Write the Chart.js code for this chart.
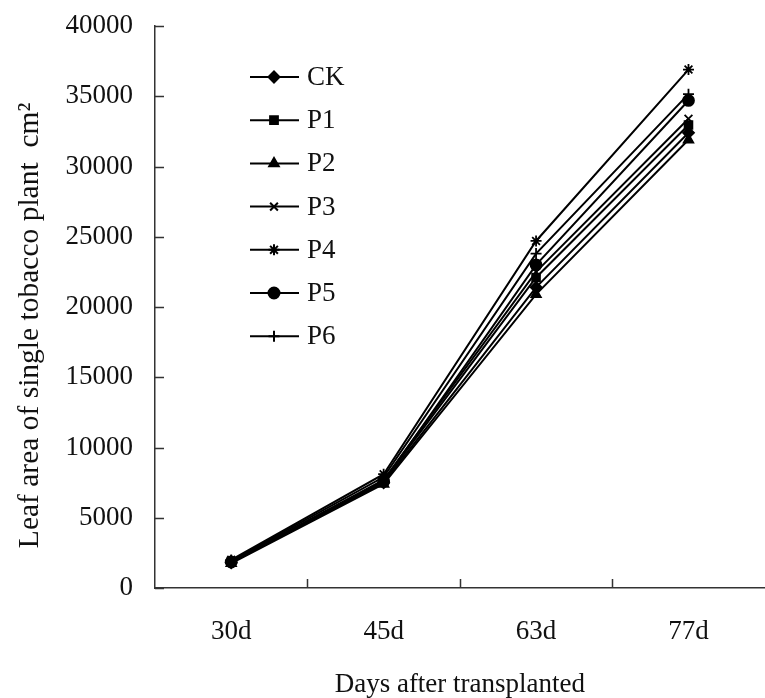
<!DOCTYPE html>
<html>
<head>
<meta charset="utf-8">
<script src="https://cdn.jsdelivr.net/npm/chart.js@4/dist/chart.umd.min.js"></script>
<style>
  html, body { margin: 0; padding: 0; background: #fff; overflow: hidden; }
  #wrap { width: 772px; height: 698px; }
</style>
</head>
<body>
<div id="wrap"><canvas id="leafChart"></canvas></div>
<script>
// categories and values
const days = ['30d', '45d', '63d', '77d'];
const seriesNames = ['CK', 'P1', 'P2', 'P3', 'P4', 'P5', 'P6'];
const ck = [1800, 7500, 21400, 32400];
const p1 = [1850, 7600, 22100, 32950];
const p2 = [1750, 7400, 20900, 31900];
const p3 = [1900, 7700, 22500, 33400];
const p4 = [2000, 8100, 24700, 36900];
const p5 = [1850, 7600, 23000, 34700];
const p6 = [1950, 7900, 23800, 35150];
const yTicks = [0, 5000, 10000, 15000, 20000, 25000, 30000, 35000, 40000];

const allValues = [ck, p1, p2, p3, p4, p5, p6];
const markers = ['rectRot', 'rect', 'triangle', 'crossRot', 'star', 'circle', 'cross'];
const FONT = '"Liberation Serif", "Times New Roman", serif';

const datasets = seriesNames.map((name, i) => ({
    label: name,
    data: allValues[i],
    borderColor: '#000',
    backgroundColor: '#000',
    borderWidth: 2,
    pointStyle: markers[i],
    pointRadius: 5.5,
    pointBorderWidth: 1.8,
    pointBorderColor: '#000',
    pointBackgroundColor: '#000',
    tension: 0
}));

// ticks pointing inwards + legend inside the plot
const decorPlugin = {
    id: 'decor',
    afterDraw(chart) {
        const ctx = chart.ctx;
        const area = chart.chartArea;
        const x = chart.scales.x;
        const y = chart.scales.y;
        ctx.save();
        ctx.strokeStyle = '#333';
        ctx.lineWidth = 1.5;
        ctx.beginPath();
        yTicks.forEach(v => {
            const py = Math.round(y.getPixelForValue(v)) + 0.5;
            ctx.moveTo(area.left, py);
            ctx.lineTo(area.left + 9, py);
        });
        for (let i = 0; i < days.length - 1; i++) {
            const px = Math.round((x.getPixelForValue(i) + x.getPixelForValue(i + 1)) / 2) + 0.5;
            ctx.moveTo(px, area.bottom);
            ctx.lineTo(px, area.bottom - 9);
        }
        ctx.stroke();

        // legend
        const lx = area.left + 95;
        let ly = area.top + 51;
        chart.data.datasets.forEach(ds => {
            ctx.strokeStyle = '#000';
            ctx.lineWidth = 2;
            ctx.beginPath();
            ctx.moveTo(lx, ly);
            ctx.lineTo(lx + 49, ly);
            ctx.stroke();
            ctx.fillStyle = '#000';
            Chart.helpers.drawPoint(ctx, {
                pointStyle: ds.pointStyle, radius: 5.5, borderWidth: 1.8
            }, lx + 24, ly);
            ctx.fillStyle = '#111';
            ctx.font = '27px ' + FONT;
            ctx.textBaseline = 'middle';
            ctx.textAlign = 'left';
            ctx.fillText(ds.label, lx + 57, ly + 1);
            ly += 43.2;
        });
        ctx.restore();
    }
};

new Chart(document.getElementById('leafChart'), {
    type: 'line',
    data: { labels: days, datasets: datasets },
    plugins: [decorPlugin],
    options: {
        responsive: true,
        maintainAspectRatio: false,
        animation: false,
        devicePixelRatio: 1,
        layout: { padding: { top: 26, right: 0, left: 0, bottom: 0 } },
        plugins: {
            legend: { display: false },
            tooltip: { enabled: false }
        },
        scales: {
            x: {
                offset: true,
                grid: { display: true, drawOnChartArea: false, drawTicks: false },
                border: { display: true, color: '#333', width: 1.5 },
                ticks: { color: '#111', font: { family: FONT, size: 27 }, padding: 28 },
                title: {
                    display: true,
                    text: 'Days after transplanted',
                    color: '#111',
                    font: { family: FONT, size: 27 },
                    padding: { top: 10, bottom: -3 }
                },
                afterFit(scale) {
                    scale.height = 110;
                    scale.paddingLeft = 0;
                    scale.paddingRight = 0;
                }
            },
            y: {
                min: 0,
                max: 40000,
                afterBuildTicks(scale) { scale.ticks = yTicks.map(v => ({ value: v })); },
                grid: { display: true, drawOnChartArea: false, drawTicks: false },
                border: { display: true, color: '#333', width: 1.5 },
                ticks: {
                    color: '#111',
                    font: { family: FONT, size: 27 },
                    padding: 22,
                    callback: v => String(v)
                },
                title: {
                    display: true,
                    text: 'Leaf area of single tobacco plant  cm\u00B2\u00A0\u00A0\u00A0\u00A0\u00A0',
                    color: '#111',
                    font: { family: FONT, size: 29.5 },
                    padding: { top: 13, bottom: 10 }
                },
                afterFit(scale) {
                    scale.width = 155;
                    scale.paddingTop = 0;
                    scale.paddingBottom = 0;
                }
            }
        }
    }
});
</script>
</body>
</html>
